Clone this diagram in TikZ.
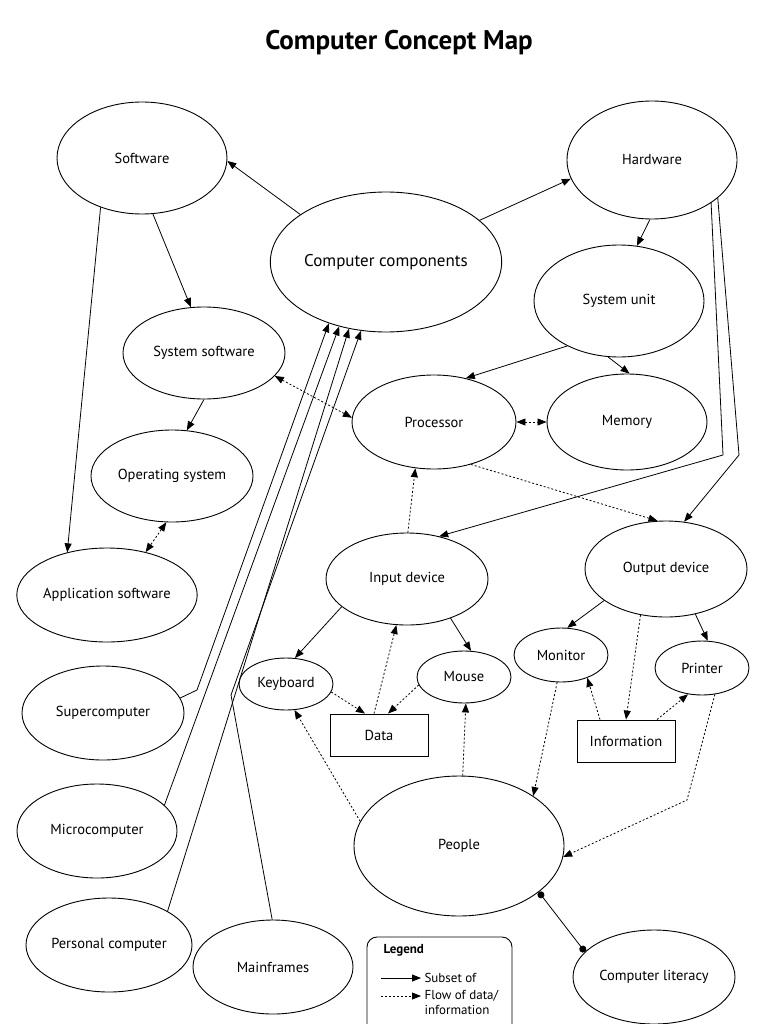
\documentclass[tikz,border=0pt]{standalone}
\usepackage{fontspec}
\setmainfont{PT Sans}
\usetikzlibrary{shapes.geometric,arrows.meta}
\begin{document}
\begin{tikzpicture}[x=1pt,y=-1pt,
  el/.style={draw,ellipse,inner sep=0pt,line width=0.9pt,font=\fontsize{14.5}{17}\selectfont},
  bx/.style={draw,rectangle,inner sep=0pt,line width=0.9pt,minimum width=98pt,minimum height=42pt,font=\fontsize{14.5}{17}\selectfont},
  sub/.style={line width=0.8pt,-{Triangle[length=9pt,width=7pt]}},
  flow/.style={line width=0.8pt,dash pattern=on 2pt off 2pt,-{Triangle[length=9pt,width=7pt]}},
  flow2/.style={flow,{Triangle[length=9pt,width=7pt]}-{Triangle[length=9pt,width=7pt]}}]
\useasboundingbox (0,0) rectangle (768,1024);
\node[font=\fontsize{27}{32}\selectfont\bfseries] (title) at (399,43) {Computer Concept Map};

% ellipses
\node[el,minimum width=170pt,minimum height=112pt] (soft) at (142,158) {Software};
\node[el,minimum width=212pt,minimum height=140pt,font=\fontsize{17}{20}\selectfont] (comp) at (386,262) {Computer components};
\node[el,minimum width=170pt,minimum height=118pt] (hw) at (652,160) {Hardware};
\node[el,minimum width=170pt,minimum height=112pt] (su) at (619,301) {System unit};
\node[el,minimum width=162pt,minimum height=92pt] (syssw) at (204,353) {System software};
\node[el,minimum width=164pt,minimum height=94pt] (proc) at (434,422) {Processor};
\node[el,minimum width=160pt,minimum height=96pt] (mem) at (627,422) {Memory};
\node[el,minimum width=162pt,minimum height=92pt] (os) at (172,476) {Operating system};
\node[el,minimum width=164pt,minimum height=94pt] (app) at (107,595) {Application software};
\node[el,minimum width=162pt,minimum height=92pt] (in) at (407,579) {Input device};
\node[el,minimum width=162pt,minimum height=96pt] (out) at (666,569) {Output device};
\node[el,minimum width=94pt,minimum height=52pt] (kb) at (286,684) {Keyboard};
\node[el,minimum width=94pt,minimum height=52pt] (mouse) at (464,677) {Mouse};
\node[el,minimum width=94pt,minimum height=54pt] (mon) at (561,655) {Monitor};
\node[el,minimum width=94pt,minimum height=54pt] (prn) at (702,668) {Printer};
\node[bx] (data) at (379,735) {Data};
\node[bx] (info) at (626,741) {Information};
\node[el,minimum width=162pt,minimum height=94pt] (super) at (103,713) {Supercomputer};
\node[el,minimum width=160pt,minimum height=94pt] (micro) at (97,831) {Microcomputer};
\node[el,minimum width=166pt,minimum height=94pt] (pc) at (109,945) {Personal computer};
\node[el,minimum width=160pt,minimum height=94pt] (main) at (273,967) {Mainframes};
\node[el,minimum width=210pt,minimum height=140pt] (people) at (459,846) {People};
\node[el,minimum width=162pt,minimum height=94pt] (lit) at (654,977) {Computer literacy};

% subset-of connectors
\draw[sub] (comp.151) -- (soft.-2);
\draw[sub] (comp.24) -- (hw.193);
\draw[sub] (soft.-79) -- (syssw.106);
\draw[sub] (soft.-130) -- (app.133);
\draw[sub] (syssw.-90) -- (os.72);
\draw[sub] (hw.-92) -- (su.72);
\draw[sub] (su.-139) -- (proc.54);
\draw[sub] (su.-101) -- (mem.87);
\draw[sub] (in.-157) -- (kb.71);
\draw[sub] (in.-42) -- (mouse.75);
\draw[sub] (out.-153) -- (mon.77);
\draw[sub] (out.-57) -- (prn.78);
\coordinate (h1) at (723,455);
\coordinate (h2) at (739,455);
\draw[sub] (hw.-36) -- (h1) -- (in.53);
\draw[sub] (hw.-30) -- (h2) -- (out.69);
\coordinate (s1) at (197,690);
\coordinate (m1) at (231,695);
\draw[sub] (super.11) -- (s1) -- (comp.-133);
\draw[sub] (micro.21) -- (comp.-126);
\draw[sub] (pc.30) -- (comp.-119);
\draw[sub] (main.91) -- (m1) -- (comp.-110);
\draw[line width=0.8pt,{Circle[length=7pt]}-{Circle[length=7pt]}] (people.-30) -- (lit.160);

% flow connectors
\draw[flow2] (syssw.-18) -- (proc.177);
\draw[flow2] (proc.east) -- (mem.west);
\draw[flow2] (os.-97) -- (app.48);
\draw[flow] (proc.-49) -- (out.100);
\draw[flow] (in.89) -- (proc.-112);
\draw[flow] (kb.-10) -- ([xshift=-14pt]data.north);
\draw[flow] ([xshift=-5pt]data.north) -- (in.-103);
\draw[flow] (mouse.-170) -- ([xshift=9pt]data.north);
\draw[flow] (people.166) -- (kb.-72);
\draw[flow] (people.87) -- (mouse.-86);
\draw[flow] (mon.-98) -- (people.34);
\draw[flow] ([xshift=-26pt]info.north) -- (mon.-41);
\draw[flow] (out.-119) -- (info.north);
\draw[flow] ([xshift=31pt]info.north) -- (prn.-118);
\coordinate (p1) at (687,800);
\draw[flow] (prn.-64) -- (p1) -- (people.-6);

% legend
\draw[line width=0.9pt,rounded corners=10pt] (367,1030) -- (367,937) -- (512,937) -- (512,1030);
\node[anchor=west,font=\fontsize{13}{15}\selectfont\bfseries] (lg) at (380,950) {Legend};
\coordinate (l1) at (381,978);
\coordinate (l2) at (381,996);
\node[anchor=west,font=\fontsize{13}{15}\selectfont] (ls) at (421,978) {Subset of};
\node[anchor=north west,align=left,font=\fontsize{13}{15}\selectfont] (lf) at (421,987) {Flow of data/\\information};
\draw[sub] (l1) -- (ls.west);
\draw[flow] (l2) -- (l2 -| ls.west);
\end{tikzpicture}
\end{document}
